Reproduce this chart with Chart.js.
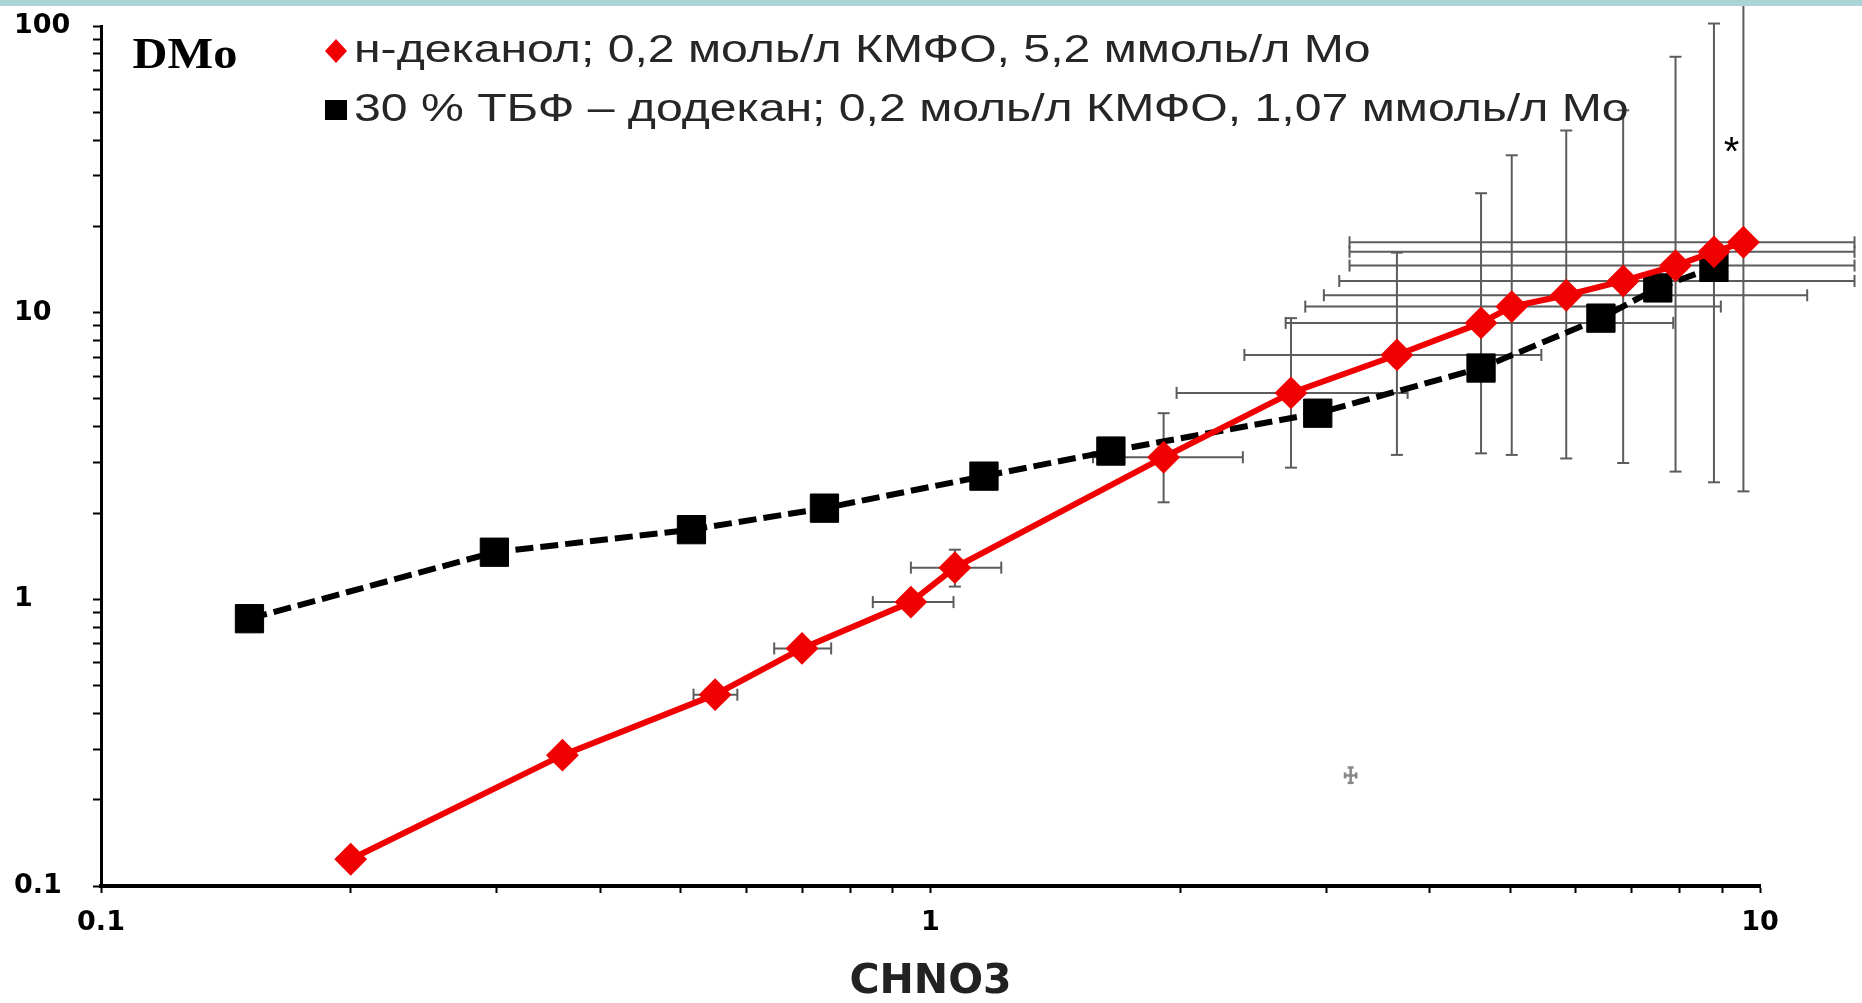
<!DOCTYPE html>
<html>
<head>
<meta charset="utf-8">
<title>DMo vs CHNO3</title>
<script src="https://cdn.jsdelivr.net/npm/chart.js@4.4.1/dist/chart.umd.min.js"></script>
<style>
  html, body { margin: 0; padding: 0; background: #fff; overflow: hidden; }
  #topBar { position: absolute; left: 0; top: 0; width: 1862px; height: 6px; background: #aad4d6; z-index: 2; }
  #wrap { position: relative; width: 1862px; height: 1003px; }
</style>
</head>
<body>
<div id="topBar"></div>
<div id="wrap"><canvas id="dmoChart"></canvas></div>
<script>
// Values (both axes logarithmic)
const decanolLabel = 'н-деканол; 0,2 моль/л КМФО, 5,2 ммоль/л Mo';
const decanolX = [0.20, 0.36, 0.55, 0.70, 0.947, 1.07, 1.91, 2.72, 3.65, 4.61, 5.02, 5.84, 6.84, 7.91, 8.80, 9.55];
const decanolY = [0.124, 0.286, 0.465, 0.674, 0.978, 1.29, 3.13, 5.25, 7.12, 9.21, 10.5, 11.5, 12.9, 14.6, 16.3, 17.6];
// error bars of the decanol series (null = no bar)
const decanolXLow  = [null, null, 0.518, 0.648, 0.852, 0.947, 1.57, 1.98, 2.39, 2.68, 2.83, 2.98, 3.11, 3.20, 3.20, 3.20];
const decanolXHigh = [null, null, 0.585, 0.759, 1.066, 1.217, 2.38, 3.76, 5.45, 7.86, 8.97, 11.4, 13.0, 13.0, 13.0, 13.0];
const decanolYLow  = [null, null, null, null, null, 1.108, 2.18, 2.88, 3.19, 3.23, 3.19, 3.10, 2.99, 2.79, 2.56, 2.38];
const decanolYHigh = [null, null, null, null, null, 1.49, 4.46, 9.57, 16.2, 26.1, 35.4, 43.2, 50.8, 78.1, 102, 130];

const tbpLabel = '30 % ТБФ – додекан; 0,2 моль/л КМФО, 1,07 ммоль/л Mo';
const tbpX = [0.151, 0.298, 0.515, 0.745, 1.16, 1.65, 2.93, 4.61, 6.43, 7.53, 8.80];
const tbpY = [0.856, 1.46, 1.75, 2.08, 2.69, 3.29, 4.46, 6.41, 9.57, 12.2, 14.4];

// lone grey point with tiny bars
const strayX = [3.21];
const strayY = [0.243];
const strayXLow = [3.16], strayXHigh = [3.26];
const strayYLow = [0.229], strayYHigh = [0.259];

// asterisk note
const noteX = [9.24];
const noteY = [39.3];
const noteText = ['*'];

const xTicksMajor = [0.1, 1, 10];
const yTicksMajor = [0.1, 1, 10, 100];
const yTitle = 'DMo';
const xTitle = 'CHNO3';

function toPoints(xs, ys) {
    return xs.map((x, i) => ({ x: x, y: ys[i] }));
}

// only keep 1..9 x 10^n ticks
function keepDecadeSteps(scale) {
    scale.ticks = scale.ticks.filter(t => {
        const m = t.value / Math.pow(10, Math.floor(Math.log10(t.value) + 1e-9));
        return Math.abs(m - Math.round(m)) < 1e-6;
    });
}

function labelFor(majors) {
    return function (value) {
        return majors.some(v => Math.abs(v - value) < 1e-9) ? String(value) : '';
    };
}

function stretchedText(ctx, text, x, y, font, color, stretch, align) {
    ctx.save();
    ctx.font = font;
    ctx.fillStyle = color;
    ctx.textBaseline = 'middle';
    ctx.textAlign = 'left';
    ctx.translate(x, y);
    ctx.scale(stretch, 1);
    let dx = 0;
    if (align === 'center') dx = -ctx.measureText(text).width / 2;
    ctx.fillText(text, dx, 0);
    ctx.restore();
}

function seg(ctx, x1, y1, x2, y2) {
    ctx.beginPath();
    ctx.moveTo(x1, y1);
    ctx.lineTo(x2, y2);
    ctx.stroke();
}

// error bars, drawn under the lines
const errorBarPlugin = {
    id: 'errorBars',
    beforeDatasetsDraw(chart) {
        const { ctx } = chart;
        const xs = chart.scales.x, ys = chart.scales.y;
        chart.data.datasets.forEach(ds => {
            const eb = ds.errorBars;
            if (!eb) return;
            ctx.save();
            ctx.strokeStyle = eb.color;
            ctx.lineWidth = eb.width;
            ds.data.forEach((p, i) => {
                const px = xs.getPixelForValue(p.x);
                const py = ys.getPixelForValue(p.y);
                if (eb.xLow[i] != null) {
                    const x1 = xs.getPixelForValue(eb.xLow[i]);
                    const x2 = xs.getPixelForValue(eb.xHigh[i]);
                    seg(ctx, x1, py, x2, py);
                    seg(ctx, x1, py - eb.cap, x1, py + eb.cap);
                    seg(ctx, x2, py - eb.cap, x2, py + eb.cap);
                }
                if (eb.yLow[i] != null) {
                    const y1 = ys.getPixelForValue(eb.yLow[i]);
                    const y2 = ys.getPixelForValue(eb.yHigh[i]);
                    seg(ctx, px, y1, px, y2);
                    seg(ctx, px - eb.cap, y1, px + eb.cap, y1);
                    seg(ctx, px - eb.cap, y2, px + eb.cap, y2);
                }
            });
            ctx.restore();
        });
    }
};

// legend, axis caption inside the plot and the asterisk
const overlayPlugin = {
    id: 'overlay',
    afterDraw(chart) {
        const { ctx, chartArea } = chart;
        const xs = chart.scales.x, ys = chart.scales.y;

        stretchedText(ctx, yTitle, chartArea.left + 84, chartArea.top + 31,
            'bold 44px "Liberation Serif"', '#000', 1.1, 'center');

        let row = 0;
        chart.data.datasets.forEach(ds => {
            if (!ds.label) return;
            const cy = 51 + row * 59;
            const cx = 336;
            ctx.save();
            ctx.fillStyle = ds.pointBackgroundColor;
            ctx.beginPath();
            if (ds.pointStyle === 'rectRot') {
                ctx.moveTo(cx - 11, cy);
                ctx.lineTo(cx, cy - 12);
                ctx.lineTo(cx + 11, cy);
                ctx.lineTo(cx, cy + 12);
                ctx.closePath();
            } else {
                ctx.rect(cx - 11, cy - 10, 22, 20);
            }
            ctx.fill();
            ctx.restore();
            stretchedText(ctx, ds.label, cx + 18, cy, '39px "Liberation Sans"', '#262626', 1.235);
            row++;
        });

        ctx.save();
        ctx.font = '40px "Liberation Sans"';
        ctx.fillStyle = '#000';
        ctx.textAlign = 'center';
        ctx.textBaseline = 'alphabetic';
        noteText.forEach((t, i) => {
            ctx.fillText(t, xs.getPixelForValue(noteX[i]), ys.getPixelForValue(noteY[i]) + 23);
        });
        ctx.restore();
    }
};

const tickFont = { family: 'DejaVu Sans', weight: 'bold', size: 27 };

new Chart(document.getElementById('dmoChart'), {
    type: 'scatter',
    data: {
        datasets: [
            {
                label: decanolLabel,
                data: toPoints(decanolX, decanolY),
                showLine: true,
                borderColor: '#f00000',
                borderWidth: 6,
                pointStyle: 'rectRot',
                pointRadius: 15,
                pointBorderWidth: 2,
                pointBackgroundColor: '#f00000',
                pointBorderColor: '#f00000',
                errorBars: { xLow: decanolXLow, xHigh: decanolXHigh, yLow: decanolYLow, yHigh: decanolYHigh,
                             color: '#5c5c5c', width: 2, cap: 6 }
            },
            {
                label: tbpLabel,
                data: toPoints(tbpX, tbpY),
                showLine: true,
                borderColor: '#000',
                borderWidth: 6,
                borderDash: [18, 7],
                pointStyle: 'rect',
                pointRadius: 20,
                pointBorderWidth: 1,
                pointBackgroundColor: '#000',
                pointBorderColor: '#000'
            },
            {
                label: '',
                data: toPoints(strayX, strayY),
                showLine: false,
                pointRadius: 0,
                errorBars: { xLow: strayXLow, xHigh: strayXHigh, yLow: strayYLow, yHigh: strayYHigh,
                             color: '#888', width: 2.5, cap: 3 }
            }
        ]
    },
    options: {
        responsive: true,
        maintainAspectRatio: false,
        animation: false,
        layout: { padding: { left: 14, right: 102, top: 26, bottom: 0 } },
        plugins: {
            legend: { display: false },
            tooltip: { enabled: false }
        },
        scales: {
            x: {
                type: 'logarithmic',
                min: 0.1,
                max: 10,
                afterBuildTicks: keepDecadeSteps,
                afterFit(scale) { scale.height = 117; },
                border: { display: true, color: '#000', width: 4 },
                grid: { display: true, drawOnChartArea: false, drawTicks: true, tickLength: 7, tickColor: '#000', tickWidth: 2 },
                ticks: { autoSkip: false, maxRotation: 0, minRotation: 0, padding: 14, color: '#000', font: tickFont,
                         callback: labelFor(xTicksMajor) },
                title: { display: true, text: xTitle, color: '#222',
                         font: { family: 'DejaVu Sans', weight: 'bold', size: 41, lineHeight: 1 },
                         padding: { top: 0, bottom: 0 } }
            },
            y: {
                type: 'logarithmic',
                min: 0.1,
                max: 100,
                afterBuildTicks: keepDecadeSteps,
                afterFit(scale) { scale.width = 87; },
                border: { display: true, color: '#000', width: 3 },
                grid: { display: true, drawOnChartArea: false, drawTicks: true, tickLength: 8, tickColor: '#000', tickWidth: 2 },
                ticks: { autoSkip: false, crossAlign: 'far', padding: 6, color: '#000', font: tickFont,
                         callback: labelFor(yTicksMajor) }
            }
        }
    },
    plugins: [errorBarPlugin, overlayPlugin]
});
</script>
</body>
</html>
